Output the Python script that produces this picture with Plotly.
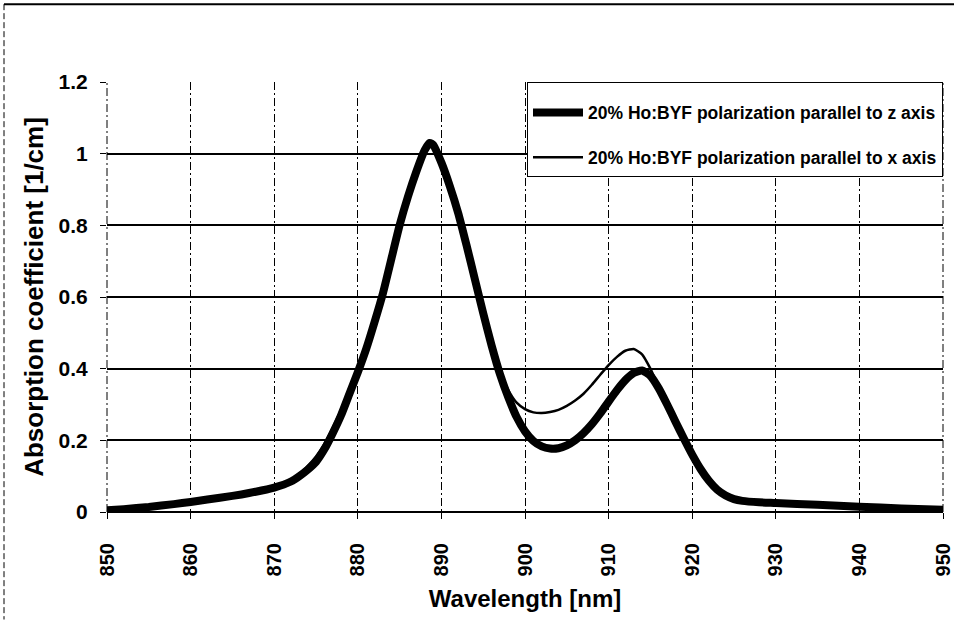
import plotly.graph_objects as go

wavelength = [850, 852, 855, 858, 860, 862, 865, 867, 870, 872, 873, 874, 875, 876, 877, 878, 879,
              880, 881, 882, 883, 884, 885, 886, 887, 888, 888.6, 889, 890, 891, 892, 893, 894, 895,
              896, 897, 898, 899, 900, 901, 902, 903, 904, 905, 906, 907, 908, 909, 910, 911, 912,
              913, 914, 915, 916, 917, 918, 919, 920, 921, 922, 923, 924, 925, 926, 928, 930, 935,
              940, 945, 950]

abs_z = [0.005, 0.008, 0.014, 0.022, 0.028, 0.035, 0.045, 0.053, 0.068, 0.085, 0.1, 0.118, 0.14,
         0.175, 0.22, 0.27, 0.33, 0.39, 0.455, 0.53, 0.61, 0.705, 0.8, 0.88, 0.95, 1.01, 1.03, 1.025,
         0.975, 0.91, 0.835, 0.745, 0.65, 0.555, 0.465, 0.385, 0.32, 0.265, 0.225, 0.198, 0.183,
         0.177, 0.178, 0.186, 0.2, 0.22, 0.245, 0.275, 0.308, 0.34, 0.368, 0.388, 0.395, 0.38, 0.345,
         0.3, 0.252, 0.205, 0.16, 0.12, 0.087, 0.062, 0.046, 0.036, 0.031, 0.027, 0.025, 0.02, 0.015,
         0.01, 0.006]

abs_x = [0.01, 0.012, 0.016, 0.022, 0.028, 0.034, 0.045, 0.053, 0.07, 0.09, 0.105, 0.128, 0.155,
         0.19, 0.235, 0.285, 0.34, 0.395, 0.455, 0.53, 0.61, 0.705, 0.795, 0.875, 0.945, 1.005, 1.025,
         1.022, 0.975, 0.91, 0.835, 0.745, 0.65, 0.56, 0.47, 0.395, 0.34, 0.305, 0.287, 0.278, 0.276,
         0.279, 0.285, 0.296, 0.311, 0.33, 0.355, 0.383, 0.41, 0.433, 0.45, 0.455, 0.44, 0.4, 0.348,
         0.3, 0.252, 0.205, 0.16, 0.12, 0.087, 0.062, 0.046, 0.036, 0.031, 0.027, 0.025, 0.02, 0.015,
         0.01, 0.006]

name_z = "20% Ho:BYF polarization parallel to z axis"
name_x = "20% Ho:BYF polarization parallel to x axis"

x_ticks = [850, 860, 870, 880, 890, 900, 910, 920, 930, 940, 950]
y_ticks = [0, 0.2, 0.4, 0.6, 0.8, 1.0, 1.2]
y_tick_text = ["0", "0.2", "0.4", "0.6", "0.8", "1", "1.2"]

FONT = "Liberation Sans, Arial, sans-serif"
GRID_DASH = "8px,3px,2px,3px"

fig = go.Figure()
fig.add_trace(go.Scatter(x=wavelength, y=abs_z, mode="lines", name=name_z, legendgroup="z",
                         line=dict(color="black", width=8, shape="spline", smoothing=0.5)))
fig.add_trace(go.Scatter(x=wavelength, y=abs_x, mode="lines", name=name_x, legendgroup="x",
                         line=dict(color="black", width=2.5, shape="spline", smoothing=0.5)))

fig.update_layout(
    width=954, height=623,
    margin=dict(l=107, r=11, t=82, b=111),
    paper_bgcolor="white", plot_bgcolor="white",
    font=dict(family=FONT, color="black"),
    showlegend=True,
    legend=dict(x=1, xanchor="right", y=1, yanchor="top",
                bgcolor="white", bordercolor="black", borderwidth=1,
                font=dict(family=FONT, size=17.5, weight="bold", color="black"),
                title=dict(text=" ", font=dict(size=9)),
                tracegroupgap=19, traceorder="grouped", itemwidth=50),
    xaxis=dict(range=[850, 950], tickvals=x_ticks, tickangle=-90,
               tickfont=dict(family=FONT, size=20, weight="bold"),
               ticks="outside", ticklen=6, tickcolor="black", ticklabelstandoff=16,
               ticklabeloverflow="allow", automargin=False,
               showgrid=True, gridcolor="black", gridwidth=1, griddash=GRID_DASH,
               zeroline=False, showline=False,
               title=dict(text="Wavelength [nm]", font=dict(family=FONT, size=24, weight="bold"),
                          standoff=14)),
    yaxis=dict(range=[0, 1.2], tickvals=y_ticks, ticktext=y_tick_text,
               tickfont=dict(family=FONT, size=21, weight="bold"),
               ticks="outside", ticklen=6, tickcolor="black", ticklabelstandoff=8,
               automargin=False,
               showgrid=True, gridcolor="black", gridwidth=1.7,
               zeroline=True, zerolinecolor="black", zerolinewidth=2, showline=False,
               title=dict(text="Absorption coefficient [1/cm]",
                          font=dict(family=FONT, size=26, weight="bold"), standoff=7)),
)

# left and right plot-area edges (dashed like the vertical grid)
for xp in (0, 1):
    fig.add_shape(type="line", xref="paper", yref="paper", x0=xp, x1=xp, y0=0, y1=1,
                  layer="below", line=dict(color="black", width=1, dash=GRID_DASH))

# outer frame of the original figure (top solid, left dashed)
fig.add_shape(type="line", xref="paper", yref="paper", x0=-0.1232, x1=1.015, y0=1.181, y1=1.181,
              line=dict(color="black", width=2))
fig.add_shape(type="line", xref="paper", yref="paper", x0=-0.1232, x1=-0.1232, y0=1.181, y1=-0.25,
              line=dict(color="black", width=1, dash="6px,3px"))

fig.write_html("out.html")
